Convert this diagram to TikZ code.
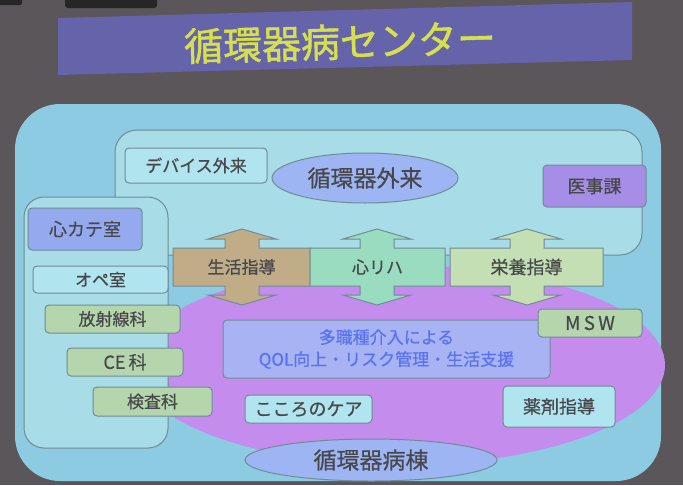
\documentclass[tikz,border=0pt]{standalone}
\usepackage{fontspec}
\setmainfont{Noto Sans CJK JP}[FakeBold=0.6]
\newfontfamily\titlefont{Noto Sans CJK JP}[FakeBold=1.2]
\usetikzlibrary{shapes.geometric}
\definecolor{bgc}{RGB}{90,86,90}
\definecolor{banner}{RGB}{101,99,170}
\definecolor{titley}{RGB}{214,224,76}
\definecolor{outerc}{RGB}{141,203,226}
\definecolor{panelc}{RGB}{168,220,230}
\definecolor{bord}{RGB}{112,140,150}
\definecolor{purp}{RGB}{196,140,236}
\definecolor{txt}{RGB}{72,72,76}
\definecolor{cyanbox}{RGB}{176,228,238}
\definecolor{lavell}{RGB}{157,181,243}
\definecolor{ijic}{RGB}{166,142,230}
\definecolor{cathc}{RGB}{148,169,238}
\definecolor{sage}{RGB}{181,214,172}
\definecolor{tan}{RGB}{192,173,136}
\definecolor{mint}{RGB}{154,220,192}
\definecolor{lime}{RGB}{196,223,180}
\definecolor{midbox}{RGB}{167,179,242}
\definecolor{midtxt}{RGB}{90,114,240}
\tikzset{
  x=1pt, y=-1pt,
  panelsty/.style={draw=bord, line width=1pt},
  lbox/.style={rectangle, rounded corners=4pt, draw=bord, line width=1pt, inner sep=0pt, text=txt, font=\fontsize{17}{17}\selectfont},
  lell/.style={ellipse, draw=bord, line width=1pt, inner sep=0pt, fill=lavell, text=txt, font=\fontsize{23}{23}\selectfont},
  arrsty/.style={draw=bord, line width=1pt, line join=miter},
  atext/.style={inner sep=0pt, text=txt, font=\fontsize{17}{17}\selectfont},
}
\newcommand\bigarrow[4]{%
  \draw[arrsty, fill=#4] (#1,248) -- (#3-17,248) -- (#3-17,239) -- (#3-34,239) -- (#3,229) -- (#3+34,239) -- (#3+17,239) -- (#3+17,248) -- (#2,248) -- (#2,286) -- (#3+17,286) -- (#3+17,295) -- (#3+34,295) -- (#3,305) -- (#3-34,295) -- (#3-17,295) -- (#3-17,286) -- (#1,286) -- cycle;}
\begin{document}
\begin{tikzpicture}
\useasboundingbox (0,0) rectangle (683,485);
\fill[bgc] (0,0) rectangle (683,485);
% screen edge blobs
\fill[black!85, rounded corners=2pt] (-5,-5) rectangle (22,5);
\fill[black!85, rounded corners=3pt] (65,-5) rectangle (157,8);
% title banner
\fill[banner] (58,18) -- (632,2) -- (632,60) -- (58,75) -- cycle;
\node[text=titley, font=\titlefont\fontsize{39}{39}\selectfont, rotate=1.6, inner sep=0pt] (title) at (340,42) {循環器病センター};
% outer panel
\fill[outerc, rounded corners=45pt] (15,104) rectangle (661,481);
% top (outpatient) panel
\filldraw[panelsty, fill=panelc, rounded corners=22pt] (115,130) rectangle (642,255);
% purple ward ellipse
\fill[purp] (400,365) ellipse [x radius=265, y radius=100];
% left panel
\filldraw[panelsty, fill=panelc, rounded corners=20pt] (24,197) rectangle (168,448);
% outpatient area
\node[lbox, fill=cyanbox, minimum width=142pt, minimum height=35pt] (dev) at (196,165.5) {デバイス外来};
\node[lell, minimum width=186pt, minimum height=50pt] (gairai) at (365,178) {循環器外来};
\node[lbox, fill=ijic, minimum width=103pt, minimum height=42pt, font=\fontsize{18}{18}\selectfont] (iji) at (594.5,186) {医事課};
% left panel boxes
\node[lbox, fill=cathc, minimum width=114pt, minimum height=42pt, font=\fontsize{18}{18}\selectfont] (cath) at (85,229) {心カテ室};
\node[lbox, fill=cyanbox, minimum width=135pt, minimum height=27pt] (ope) at (100.5,279.5) {オペ室};
\node[lbox, fill=sage, minimum width=135pt, minimum height=28pt] (rad) at (112.5,319) {放射線科};
\node[lbox, fill=sage, minimum width=116pt, minimum height=28pt, font=\fontsize{18}{18}\selectfont] (ce) at (125,362) {CE\,科};
\node[lbox, fill=sage, minimum width=119pt, minimum height=29pt] (kensa) at (152.5,401.5) {検査科};
% arrows
\bigarrow{173}{310}{242}{tan}
\bigarrow{310}{445}{377}{mint}
\bigarrow{450}{603}{527}{lime}
\node[atext] (seikatsu) at (241.5,267) {生活指導};
\node[atext] (rehab) at (377.5,267) {心リハ};
\node[atext, font=\fontsize{18}{18}\selectfont] (eiyou) at (526.5,267) {栄養指導};
% ward content
\node[lbox, fill=midbox, text=midtxt, minimum width=327pt, minimum height=58pt, align=center, font=\fontsize{17}{22}\selectfont] (mid) at (386.5,349) {多職種介入による\\QOL向上・リスク管理・生活支援};
\node[lbox, fill=sage, minimum width=104pt, minimum height=28pt, font=\fontsize{19}{19}\selectfont] (msw) at (590,323) {M\,S\,W};
\node[lbox, fill=cyanbox, minimum width=127pt, minimum height=28pt, font=\fontsize{18}{18}\selectfont] (kokoro) at (308.5,409) {こころのケア};
\node[lbox, fill=cyanbox, minimum width=112pt, minimum height=41pt, font=\fontsize{18}{18}\selectfont] (yaku) at (559,406.5) {薬剤指導};
\node[lell, minimum width=252pt, minimum height=42pt] (byoto) at (371,460) {循環器病棟};
\end{tikzpicture}
\end{document}
